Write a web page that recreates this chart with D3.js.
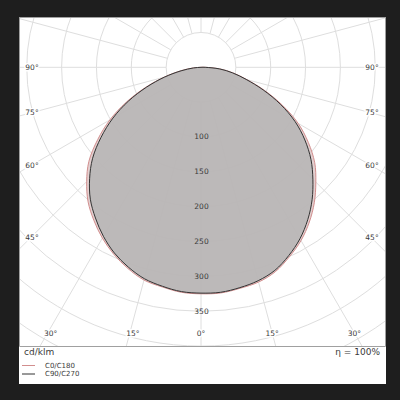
<!DOCTYPE html>
<html>
<head>
<meta charset="utf-8">
<script src="https://cdn.jsdelivr.net/npm/d3@7"></script>
<style>
  html, body { margin: 0; padding: 0; background: #1e1e1e; }
  svg { display: block; }
  text { font-family: "DejaVu Sans", sans-serif; fill: #3a3a3a; }
</style>
</head>
<body>
<svg id="ldc" width="400" height="400"></svg>
<script>
// gamma angles (deg from nadir) and intensities in cd/klm
const gammaDeg = [0, 5, 10, 15, 20, 25, 30, 35, 40, 45, 50, 55, 60, 65, 70, 75, 80, 85, 90];
// right half of the diagram
const c0   = [326, 325, 322, 319, 312, 300, 287, 271, 253, 233, 213, 188, 161, 129, 97, 68, 47, 27, 6];
const c90  = [325, 324, 321, 317, 310, 298, 284, 267, 248, 227, 206, 182, 156, 126, 95, 67, 46, 27, 6];
// left half of the diagram
const c180 = [325, 324, 320, 316, 307, 296, 283, 268, 252, 232, 210, 181, 151, 118, 85, 55, 30, 11, 0];
const c270 = [324, 323, 319, 314, 305, 294, 280, 264, 247, 226, 203, 175, 146, 115, 83, 54, 29, 11, 0];

const ringValues = [50, 100, 150, 200, 250, 300, 350, 400, 450];
const ringLabels = [100, 150, 200, 250, 300, 350];
const spokeDeg = d3.range(0, 181, 15);
const sideLabels = [90, 75, 60, 45];
const bottomLabels = [30, 15, 0];

const svg = d3.select('#ldc');
const cx = 201, cy = 67.3;
const plot = { x0: 19, y0: 17, x1: 385, y1: 346 };

const rScale = d3.scaleLinear().domain([0, 500]).range([0, 348.5]);

// white panel
svg.append('rect')
  .attr('x', 19).attr('y', 17).attr('width', 367).attr('height', 367)
  .attr('fill', '#fff');

svg.append('clipPath').attr('id', 'plotClip')
  .append('rect')
    .attr('x', plot.x0).attr('y', plot.y0)
    .attr('width', plot.x1 - plot.x0).attr('height', plot.y1 - plot.y0);

const g = svg.append('g').attr('clip-path', 'url(#plotClip)');
const polar = g.append('g').attr('transform', `translate(${cx},${cy})`);

// grid
const grid = polar.append('g').attr('class', 'grid')
  .attr('stroke', '#dedede').attr('fill', 'none').attr('stroke-width', 1);

grid.selectAll('circle').data(ringValues).enter().append('circle')
  .attr('r', d => rScale(d));

const rad = d => d * Math.PI / 180;
// spokes on both sides, gamma measured from straight down
const spokes = [];
spokeDeg.forEach(d => { spokes.push(d); if (d > 0 && d < 180) spokes.push(-d); });
grid.selectAll('line').data(spokes).enter().append('line')
  .attr('x1', d => rScale(50) * Math.sin(rad(d)))
  .attr('y1', d => rScale(50) * Math.cos(rad(d)))
  .attr('x2', d => rScale(600) * Math.sin(rad(d)))
  .attr('y2', d => rScale(600) * Math.cos(rad(d)));

// curve points: left half from 90 down to 0, then right half from 0 up to 90
const buildPts = (left, right) => {
  const pts = [];
  for (let i = gammaDeg.length - 1; i >= 0; i--) pts.push([Math.PI + rad(gammaDeg[i]), left[i]]);
  for (let i = 1; i < gammaDeg.length; i++) pts.push([Math.PI - rad(gammaDeg[i]), right[i]]);
  return pts;
};

const line = d3.lineRadial()
  .angle(d => d[0])
  .radius(d => rScale(d[1]))
  .curve(d3.curveCatmullRomClosed);

const curves = polar.append('g');
curves.append('path')
  .attr('d', line(buildPts(c180, c0)))
  .attr('fill', '#dcc6c6').attr('fill-opacity', 0.82)
  .attr('stroke', '#d28e8e').attr('stroke-width', 1);

curves.append('path')
  .attr('d', line(buildPts(c270, c90)))
  .attr('fill', '#b3b3b3').attr('fill-opacity', 0.82)
  .attr('stroke', '#333').attr('stroke-width', 1);

// ring value labels on the nadir axis
polar.selectAll('.ring-label').data(ringLabels).enter().append('text')
  .attr('class', 'ring-label')
  .attr('x', 0.5)
  .attr('y', d => rScale(d))
  .attr('text-anchor', 'middle')
  .attr('dominant-baseline', 'central')
  .attr('font-size', 7.5)
  .text(d => d);

// angle labels along the frame
const labelG = svg.append('g')
  .attr('font-size', 7.5)
  .attr('text-anchor', 'middle')
  .attr('dominant-baseline', 'central');

const sideDx = 170;
sideLabels.forEach(a => {
  const y = cy + sideDx / Math.tan(rad(a));
  [-1, 1].forEach(s => {
    labelG.append('text')
      .attr('x', cx + s * sideDx + 1).attr('y', y)
      .attr('stroke', '#fff').attr('stroke-width', 3).attr('paint-order', 'stroke')
      .text(a + '°');
  });
});

const bottomY = 333;
bottomLabels.forEach(a => {
  const dx = (bottomY - cy) * Math.tan(rad(a));
  const sides = a === 0 ? [1] : [-1, 1];
  sides.forEach(s => {
    labelG.append('text')
      .attr('x', cx + s * dx + (s < 0 ? 3 : 0)).attr('y', bottomY)
      .attr('stroke', '#fff').attr('stroke-width', 3).attr('paint-order', 'stroke')
      .text(a + '°');
  });
});

// frame
svg.append('path')
  .attr('d', `M${plot.x0 + 0.5},${plot.y0}V${plot.y1 + 0.5}H${plot.x1 + 0.5}V${plot.y0}`)
  .attr('fill', 'none').attr('stroke', '#a0a0a0').attr('stroke-width', 1);
svg.append('line')
  .attr('x1', plot.x0).attr('x2', plot.x1 + 1)
  .attr('y1', plot.y0 + 0.5).attr('y2', plot.y0 + 0.5)
  .attr('stroke', '#a0a0a0');

// legend
svg.append('text')
  .attr('x', 24).attr('y', 355)
  .attr('font-size', 9)
  .text('cd/klm');

svg.append('text')
  .attr('x', 380).attr('y', 355)
  .attr('font-size', 9)
  .attr('text-anchor', 'end')
  .text('η = 100%');

const legendItems = [
  { label: 'C0/C180', color: '#d28e8e', y: 365.5 },
  { label: 'C90/C270', color: '#333', y: 374 }
];
const legend = svg.append('g').selectAll('g').data(legendItems).enter().append('g');
legend.append('line')
  .attr('x1', 22).attr('x2', 35)
  .attr('y1', d => d.y).attr('y2', d => d.y)
  .attr('stroke', d => d.color).attr('stroke-width', 1);
legend.append('text')
  .attr('x', 45).attr('y', d => d.y)
  .attr('dominant-baseline', 'central')
  .attr('font-size', 7)
  .text(d => d.label);
</script>
</body>
</html>
